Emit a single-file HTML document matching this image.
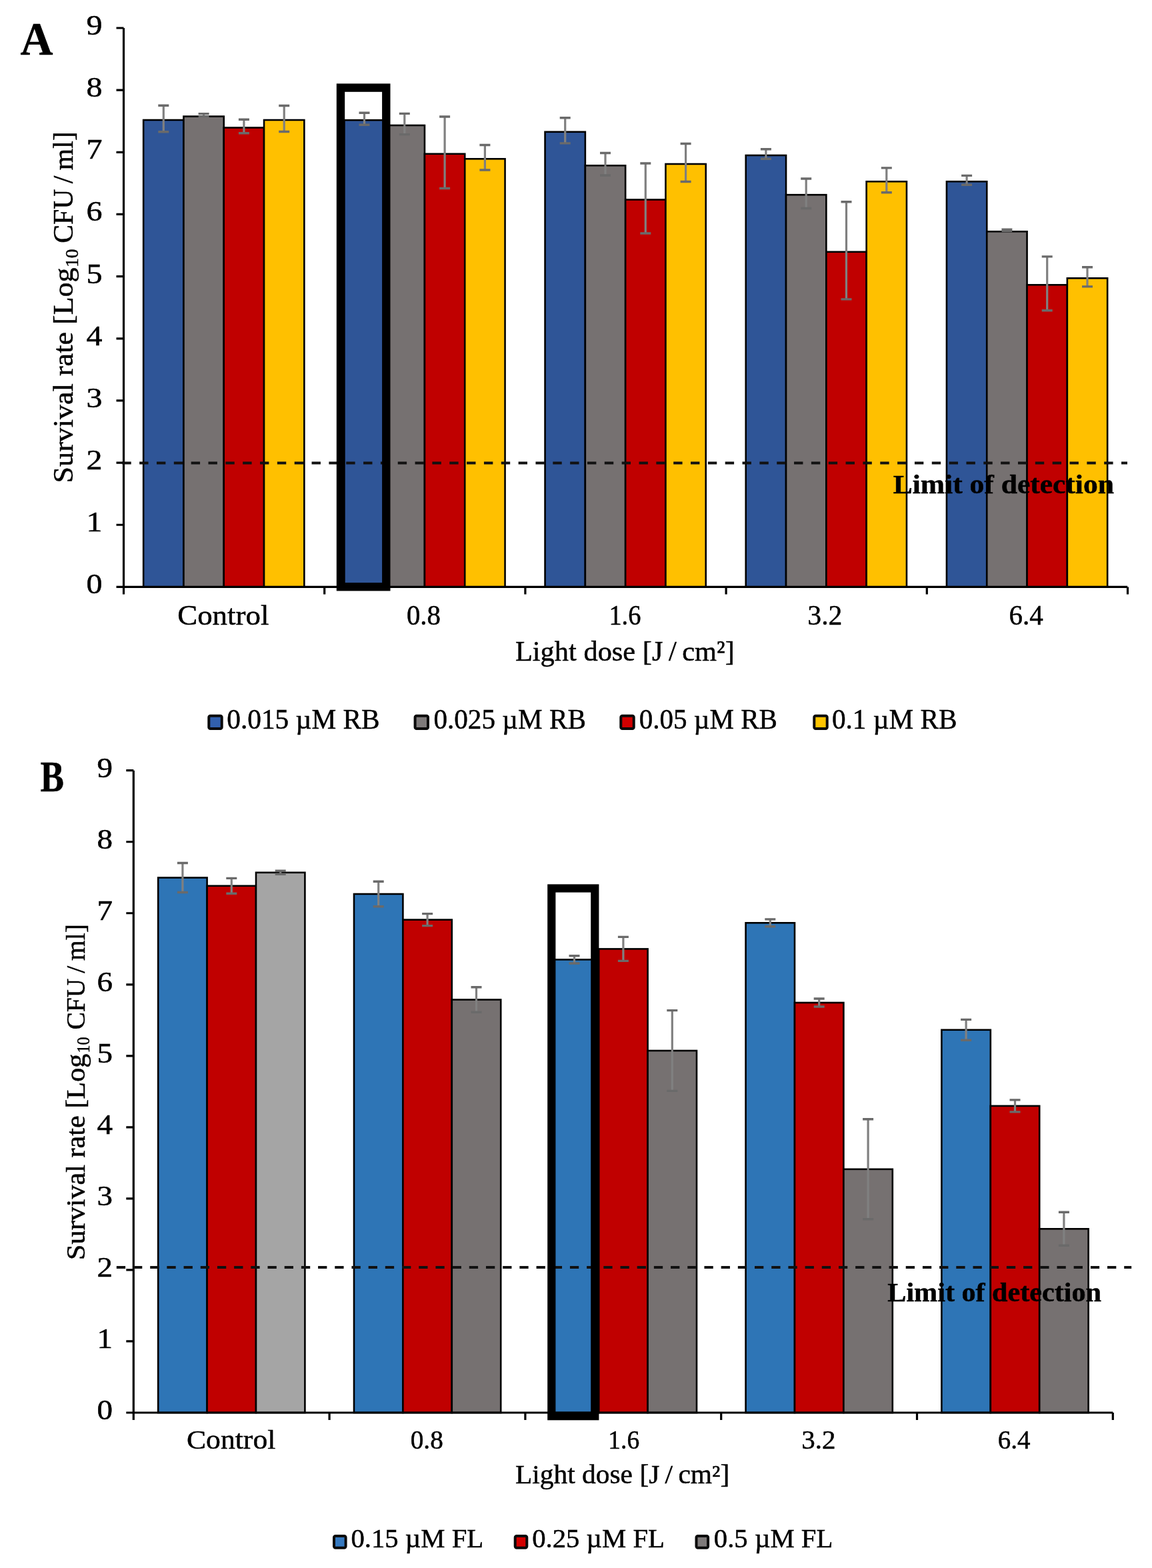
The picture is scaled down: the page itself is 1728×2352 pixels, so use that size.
<!DOCTYPE html>
<html><head><meta charset="utf-8"><title>Survival rate chart</title>
<style>
html,body{margin:0;padding:0;background:#fff;}
svg{display:block;}
</style></head>
<body>
<svg width="1728" height="2352" viewBox="0 0 1728 2352">
<rect width="1728" height="2352" fill="#fff"/>
<rect x="215.15" y="180" width="60.3" height="700.4" fill="#2F5597" stroke="#000" stroke-width="2.6"/>
<rect x="275.45" y="174.6" width="60.3" height="705.8" fill="#767171" stroke="#000" stroke-width="2.6"/>
<rect x="335.75" y="191.5" width="60.3" height="688.9" fill="#C00000" stroke="#000" stroke-width="2.6"/>
<rect x="396.05" y="180" width="60.3" height="700.4" fill="#FFC000" stroke="#000" stroke-width="2.6"/>
<rect x="516.35" y="180.2" width="60.3" height="700.2" fill="#2F5597" stroke="#000" stroke-width="2.6"/>
<rect x="576.65" y="188" width="60.3" height="692.4" fill="#767171" stroke="#000" stroke-width="2.6"/>
<rect x="636.95" y="230.8" width="60.3" height="649.6" fill="#C00000" stroke="#000" stroke-width="2.6"/>
<rect x="697.25" y="238.3" width="60.3" height="642.1" fill="#FFC000" stroke="#000" stroke-width="2.6"/>
<rect x="817.55" y="197.8" width="60.3" height="682.6" fill="#2F5597" stroke="#000" stroke-width="2.6"/>
<rect x="877.85" y="248.3" width="60.3" height="632.1" fill="#767171" stroke="#000" stroke-width="2.6"/>
<rect x="938.15" y="299.5" width="60.3" height="580.9" fill="#C00000" stroke="#000" stroke-width="2.6"/>
<rect x="998.45" y="246" width="60.3" height="634.4" fill="#FFC000" stroke="#000" stroke-width="2.6"/>
<rect x="1118.75" y="233" width="60.3" height="647.4" fill="#2F5597" stroke="#000" stroke-width="2.6"/>
<rect x="1179.05" y="292.2" width="60.3" height="588.2" fill="#767171" stroke="#000" stroke-width="2.6"/>
<rect x="1239.35" y="377.8" width="60.3" height="502.6" fill="#C00000" stroke="#000" stroke-width="2.6"/>
<rect x="1299.65" y="272.3" width="60.3" height="608.1" fill="#FFC000" stroke="#000" stroke-width="2.6"/>
<rect x="1419.95" y="272.3" width="60.3" height="608.1" fill="#2F5597" stroke="#000" stroke-width="2.6"/>
<rect x="1480.25" y="347.3" width="60.3" height="533.1" fill="#767171" stroke="#000" stroke-width="2.6"/>
<rect x="1540.55" y="427.3" width="60.3" height="453.1" fill="#C00000" stroke="#000" stroke-width="2.6"/>
<rect x="1600.85" y="417.3" width="60.3" height="463.1" fill="#FFC000" stroke="#000" stroke-width="2.6"/>
<path d="M245.3 158.25V197.75" stroke="#808080" stroke-width="3.2" fill="none"/>
<path d="M237.3 158.25H253.3M237.3 197.75H253.3" stroke="#6A6A6A" stroke-width="3.4" fill="none"/>
<path d="M305.6 170.6V174.6" stroke="#808080" stroke-width="3.2" fill="none"/>
<path d="M297.6 170.6H313.6M297.6 174.6H313.6" stroke="#6A6A6A" stroke-width="3.4" fill="none"/>
<path d="M365.9 179.2V199.8" stroke="#808080" stroke-width="3.2" fill="none"/>
<path d="M357.9 179.2H373.9M357.9 199.8H373.9" stroke="#6A6A6A" stroke-width="3.4" fill="none"/>
<path d="M426.2 158.5V197.5" stroke="#808080" stroke-width="3.2" fill="none"/>
<path d="M418.2 158.5H434.2M418.2 197.5H434.2" stroke="#6A6A6A" stroke-width="3.4" fill="none"/>
<path d="M546.5 169.2V187.2" stroke="#808080" stroke-width="3.2" fill="none"/>
<path d="M538.5 169.2H554.5M538.5 187.2H554.5" stroke="#6A6A6A" stroke-width="3.4" fill="none"/>
<path d="M606.8 170.4V201.6" stroke="#808080" stroke-width="3.2" fill="none"/>
<path d="M598.8 170.4H614.8M598.8 201.6H614.8" stroke="#6A6A6A" stroke-width="3.4" fill="none"/>
<path d="M667.1 175.05V282.55" stroke="#808080" stroke-width="3.2" fill="none"/>
<path d="M659.1 175.05H675.1M659.1 282.55H675.1" stroke="#6A6A6A" stroke-width="3.4" fill="none"/>
<path d="M727.4 217.55V255.05" stroke="#808080" stroke-width="3.2" fill="none"/>
<path d="M719.4 217.55H735.4M719.4 255.05H735.4" stroke="#6A6A6A" stroke-width="3.4" fill="none"/>
<path d="M847.7 176.7V214.9" stroke="#808080" stroke-width="3.2" fill="none"/>
<path d="M839.7 176.7H855.7M839.7 214.9H855.7" stroke="#6A6A6A" stroke-width="3.4" fill="none"/>
<path d="M908 229.55V263.05" stroke="#808080" stroke-width="3.2" fill="none"/>
<path d="M900 229.55H916M900 263.05H916" stroke="#6A6A6A" stroke-width="3.4" fill="none"/>
<path d="M968.3 245V350" stroke="#808080" stroke-width="3.2" fill="none"/>
<path d="M960.3 245H976.3M960.3 350H976.3" stroke="#6A6A6A" stroke-width="3.4" fill="none"/>
<path d="M1028.6 215.5V272.5" stroke="#808080" stroke-width="3.2" fill="none"/>
<path d="M1020.6 215.5H1036.6M1020.6 272.5H1036.6" stroke="#6A6A6A" stroke-width="3.4" fill="none"/>
<path d="M1148.9 223.75V238.25" stroke="#808080" stroke-width="3.2" fill="none"/>
<path d="M1140.9 223.75H1156.9M1140.9 238.25H1156.9" stroke="#6A6A6A" stroke-width="3.4" fill="none"/>
<path d="M1209.2 267.95V312.45" stroke="#808080" stroke-width="3.2" fill="none"/>
<path d="M1201.2 267.95H1217.2M1201.2 312.45H1217.2" stroke="#6A6A6A" stroke-width="3.4" fill="none"/>
<path d="M1269.5 302.7V448.9" stroke="#808080" stroke-width="3.2" fill="none"/>
<path d="M1261.5 302.7H1277.5M1261.5 448.9H1277.5" stroke="#6A6A6A" stroke-width="3.4" fill="none"/>
<path d="M1329.8 251.9V288.7" stroke="#808080" stroke-width="3.2" fill="none"/>
<path d="M1321.8 251.9H1337.8M1321.8 288.7H1337.8" stroke="#6A6A6A" stroke-width="3.4" fill="none"/>
<path d="M1450.1 263.4V277.2" stroke="#808080" stroke-width="3.2" fill="none"/>
<path d="M1442.1 263.4H1458.1M1442.1 277.2H1458.1" stroke="#6A6A6A" stroke-width="3.4" fill="none"/>
<path d="M1510.4 344.1V346.5" stroke="#808080" stroke-width="3.2" fill="none"/>
<path d="M1502.4 344.1H1518.4M1502.4 346.5H1518.4" stroke="#6A6A6A" stroke-width="3.4" fill="none"/>
<path d="M1570.7 384.9V465.7" stroke="#808080" stroke-width="3.2" fill="none"/>
<path d="M1562.7 384.9H1578.7M1562.7 465.7H1578.7" stroke="#6A6A6A" stroke-width="3.4" fill="none"/>
<path d="M1631 400.7V429.9" stroke="#808080" stroke-width="3.2" fill="none"/>
<path d="M1623 400.7H1639M1623 429.9H1639" stroke="#6A6A6A" stroke-width="3.4" fill="none"/>
<path d="M185.5 42V880.4H1691.2" stroke="#000" stroke-width="3.2" fill="none"/>
<path d="M174.5 880.4H185.5M174.5 787.24H185.5M174.5 694.09H185.5M174.5 600.93H185.5M174.5 507.78H185.5M174.5 414.62H185.5M174.5 321.47H185.5M174.5 228.31H185.5M174.5 135.16H185.5M174.5 42H185.5M185.5 880.4V891.4M486.7 880.4V891.4M787.9 880.4V891.4M1089.1 880.4V891.4M1390.3 880.4V891.4M1691.5 880.4V891.4" stroke="#000" stroke-width="3.2" fill="none"/>
<rect x="237.2" y="1316.5" width="73.4" height="802.5" fill="#2E75B6" stroke="#000" stroke-width="2.6"/>
<rect x="310.6" y="1328.8" width="73.4" height="790.2" fill="#C00000" stroke="#000" stroke-width="2.6"/>
<rect x="384" y="1308.8" width="73.4" height="810.2" fill="#A5A5A5" stroke="#000" stroke-width="2.6"/>
<rect x="531" y="1341" width="73.4" height="778" fill="#2E75B6" stroke="#000" stroke-width="2.6"/>
<rect x="604.4" y="1379.6" width="73.4" height="739.4" fill="#C00000" stroke="#000" stroke-width="2.6"/>
<rect x="677.8" y="1499.5" width="73.4" height="619.5" fill="#767171" stroke="#000" stroke-width="2.6"/>
<rect x="824.8" y="1439.4" width="73.4" height="679.6" fill="#2E75B6" stroke="#000" stroke-width="2.6"/>
<rect x="898.2" y="1423.4" width="73.4" height="695.6" fill="#C00000" stroke="#000" stroke-width="2.6"/>
<rect x="971.6" y="1576" width="73.4" height="543" fill="#767171" stroke="#000" stroke-width="2.6"/>
<rect x="1118.6" y="1384.3" width="73.4" height="734.7" fill="#2E75B6" stroke="#000" stroke-width="2.6"/>
<rect x="1192" y="1504" width="73.4" height="615" fill="#C00000" stroke="#000" stroke-width="2.6"/>
<rect x="1265.4" y="1753.8" width="73.4" height="365.2" fill="#767171" stroke="#000" stroke-width="2.6"/>
<rect x="1412.4" y="1544.8" width="73.4" height="574.2" fill="#2E75B6" stroke="#000" stroke-width="2.6"/>
<rect x="1485.8" y="1658.9" width="73.4" height="460.1" fill="#C00000" stroke="#000" stroke-width="2.6"/>
<rect x="1559.2" y="1843.3" width="73.4" height="275.7" fill="#767171" stroke="#000" stroke-width="2.6"/>
<path d="M273.9 1294.5V1338.5" stroke="#808080" stroke-width="3.2" fill="none"/>
<path d="M265.9 1294.5H281.9M265.9 1338.5H281.9" stroke="#6A6A6A" stroke-width="3.4" fill="none"/>
<path d="M347.3 1317.4V1340.2" stroke="#808080" stroke-width="3.2" fill="none"/>
<path d="M339.3 1317.4H355.3M339.3 1340.2H355.3" stroke="#6A6A6A" stroke-width="3.4" fill="none"/>
<path d="M420.7 1306.3V1311.3" stroke="#808080" stroke-width="3.2" fill="none"/>
<path d="M412.7 1306.3H428.7M412.7 1311.3H428.7" stroke="#6A6A6A" stroke-width="3.4" fill="none"/>
<path d="M567.7 1322.25V1359.75" stroke="#808080" stroke-width="3.2" fill="none"/>
<path d="M559.7 1322.25H575.7M559.7 1359.75H575.7" stroke="#6A6A6A" stroke-width="3.4" fill="none"/>
<path d="M641.1 1370.6V1388.6" stroke="#808080" stroke-width="3.2" fill="none"/>
<path d="M633.1 1370.6H649.1M633.1 1388.6H649.1" stroke="#6A6A6A" stroke-width="3.4" fill="none"/>
<path d="M714.5 1480.75V1518.25" stroke="#808080" stroke-width="3.2" fill="none"/>
<path d="M706.5 1480.75H722.5M706.5 1518.25H722.5" stroke="#6A6A6A" stroke-width="3.4" fill="none"/>
<path d="M861.5 1433.8V1445" stroke="#808080" stroke-width="3.2" fill="none"/>
<path d="M853.5 1433.8H869.5M853.5 1445H869.5" stroke="#6A6A6A" stroke-width="3.4" fill="none"/>
<path d="M934.9 1405.4V1441.4" stroke="#808080" stroke-width="3.2" fill="none"/>
<path d="M926.9 1405.4H942.9M926.9 1441.4H942.9" stroke="#6A6A6A" stroke-width="3.4" fill="none"/>
<path d="M1008.3 1515.6V1636.4" stroke="#808080" stroke-width="3.2" fill="none"/>
<path d="M1000.3 1515.6H1016.3M1000.3 1636.4H1016.3" stroke="#6A6A6A" stroke-width="3.4" fill="none"/>
<path d="M1155.3 1378.9V1389.7" stroke="#808080" stroke-width="3.2" fill="none"/>
<path d="M1147.3 1378.9H1163.3M1147.3 1389.7H1163.3" stroke="#6A6A6A" stroke-width="3.4" fill="none"/>
<path d="M1228.7 1498V1510" stroke="#808080" stroke-width="3.2" fill="none"/>
<path d="M1220.7 1498H1236.7M1220.7 1510H1236.7" stroke="#6A6A6A" stroke-width="3.4" fill="none"/>
<path d="M1302.1 1678.8V1828.8" stroke="#808080" stroke-width="3.2" fill="none"/>
<path d="M1294.1 1678.8H1310.1M1294.1 1828.8H1310.1" stroke="#6A6A6A" stroke-width="3.4" fill="none"/>
<path d="M1449.1 1529.4V1560.2" stroke="#808080" stroke-width="3.2" fill="none"/>
<path d="M1441.1 1529.4H1457.1M1441.1 1560.2H1457.1" stroke="#6A6A6A" stroke-width="3.4" fill="none"/>
<path d="M1522.5 1649.9V1667.9" stroke="#808080" stroke-width="3.2" fill="none"/>
<path d="M1514.5 1649.9H1530.5M1514.5 1667.9H1530.5" stroke="#6A6A6A" stroke-width="3.4" fill="none"/>
<path d="M1595.9 1818.3V1868.3" stroke="#808080" stroke-width="3.2" fill="none"/>
<path d="M1587.9 1818.3H1603.9M1587.9 1868.3H1603.9" stroke="#6A6A6A" stroke-width="3.4" fill="none"/>
<path d="M200.3 1155.7V2119H1669.4" stroke="#000" stroke-width="3.2" fill="none"/>
<path d="M189.3 2119H200.3M189.3 2011.97H200.3M189.3 1904.93H200.3M189.3 1797.9H200.3M189.3 1690.87H200.3M189.3 1583.83H200.3M189.3 1476.8H200.3M189.3 1369.77H200.3M189.3 1262.73H200.3M189.3 1155.7H200.3M200.3 2119V2130M494.1 2119V2130M787.9 2119V2130M1081.7 2119V2130M1375.5 2119V2130M1669.3 2119V2130" stroke="#000" stroke-width="3.2" fill="none"/>
<path d="M183.3 694.5H1691" stroke="#111" stroke-width="4" stroke-dasharray="13.4 12.44" fill="none"/>
<path d="M174.8 1901H1697.2" stroke="#111" stroke-width="4" stroke-dasharray="13.3 11.89" fill="none"/>
<g font-family="'Liberation Serif', serif" fill="#000" stroke="#000" stroke-width="0.5">
<text x="30.5" y="82.3" font-size="70" font-weight="bold" textLength="49" lengthAdjust="spacingAndGlyphs">A</text>
<text x="60.5" y="1187.3" font-size="66" font-weight="bold" textLength="35.5" lengthAdjust="spacingAndGlyphs">B</text>
<text x="141.5" y="890.4" font-size="42" text-anchor="middle" textLength="24" lengthAdjust="spacingAndGlyphs">0</text>
<text x="141.5" y="797.24" font-size="42" text-anchor="middle" textLength="24" lengthAdjust="spacingAndGlyphs">1</text>
<text x="141.5" y="704.09" font-size="42" text-anchor="middle" textLength="24" lengthAdjust="spacingAndGlyphs">2</text>
<text x="141.5" y="610.93" font-size="42" text-anchor="middle" textLength="24" lengthAdjust="spacingAndGlyphs">3</text>
<text x="141.5" y="517.78" font-size="42" text-anchor="middle" textLength="24" lengthAdjust="spacingAndGlyphs">4</text>
<text x="141.5" y="424.62" font-size="42" text-anchor="middle" textLength="24" lengthAdjust="spacingAndGlyphs">5</text>
<text x="141.5" y="331.47" font-size="42" text-anchor="middle" textLength="24" lengthAdjust="spacingAndGlyphs">6</text>
<text x="141.5" y="238.31" font-size="42" text-anchor="middle" textLength="24" lengthAdjust="spacingAndGlyphs">7</text>
<text x="141.5" y="145.16" font-size="42" text-anchor="middle" textLength="24" lengthAdjust="spacingAndGlyphs">8</text>
<text x="141.5" y="52" font-size="42" text-anchor="middle" textLength="24" lengthAdjust="spacingAndGlyphs">9</text>
<text x="157.2" y="2129" font-size="42" text-anchor="middle" textLength="23.5" lengthAdjust="spacingAndGlyphs">0</text>
<text x="157.2" y="2021.97" font-size="42" text-anchor="middle" textLength="23.5" lengthAdjust="spacingAndGlyphs">1</text>
<text x="157.2" y="1914.93" font-size="42" text-anchor="middle" textLength="23.5" lengthAdjust="spacingAndGlyphs">2</text>
<text x="157.2" y="1807.9" font-size="42" text-anchor="middle" textLength="23.5" lengthAdjust="spacingAndGlyphs">3</text>
<text x="157.2" y="1700.87" font-size="42" text-anchor="middle" textLength="23.5" lengthAdjust="spacingAndGlyphs">4</text>
<text x="157.2" y="1593.83" font-size="42" text-anchor="middle" textLength="23.5" lengthAdjust="spacingAndGlyphs">5</text>
<text x="157.2" y="1486.8" font-size="42" text-anchor="middle" textLength="23.5" lengthAdjust="spacingAndGlyphs">6</text>
<text x="157.2" y="1379.77" font-size="42" text-anchor="middle" textLength="23.5" lengthAdjust="spacingAndGlyphs">7</text>
<text x="157.2" y="1272.73" font-size="42" text-anchor="middle" textLength="23.5" lengthAdjust="spacingAndGlyphs">8</text>
<text x="157.2" y="1165.7" font-size="42" text-anchor="middle" textLength="23.5" lengthAdjust="spacingAndGlyphs">9</text>
<text x="266.2" y="937.4" font-size="42" textLength="137.2" lengthAdjust="spacingAndGlyphs">Control</text>
<text x="609.95" y="937.4" font-size="42" textLength="50.95" lengthAdjust="spacingAndGlyphs">0.8</text>
<text x="913.4" y="937.4" font-size="42" textLength="48" lengthAdjust="spacingAndGlyphs">1.6</text>
<text x="1211.3" y="937.4" font-size="42" textLength="52.1" lengthAdjust="spacingAndGlyphs">3.2</text>
<text x="1513.5" y="937.4" font-size="42" textLength="51.2" lengthAdjust="spacingAndGlyphs">6.4</text>
<text x="279.95" y="2172.5" font-size="41" textLength="133.45" lengthAdjust="spacingAndGlyphs">Control</text>
<text x="615.7" y="2172.5" font-size="41" textLength="49.1" lengthAdjust="spacingAndGlyphs">0.8</text>
<text x="912.3" y="2172.5" font-size="41" textLength="46.9" lengthAdjust="spacingAndGlyphs">1.6</text>
<text x="1202.2" y="2172.5" font-size="41" textLength="51.2" lengthAdjust="spacingAndGlyphs">3.2</text>
<text x="1496.7" y="2172.5" font-size="41" textLength="48.7" lengthAdjust="spacingAndGlyphs">6.4</text>
<text x="772.9" y="991.1" font-size="42" textLength="329" lengthAdjust="spacingAndGlyphs">Light dose [J / cm²]</text>
<text x="772.9" y="2224.6" font-size="40" textLength="321.4" lengthAdjust="spacingAndGlyphs">Light dose [J / cm²]</text>
<g transform="translate(109.3 0) rotate(-90)">
<text x="-724.4" y="0" font-size="42" textLength="323" lengthAdjust="spacingAndGlyphs">Survival rate [Log</text>
<text x="-401.1" y="7.5" font-size="27.72" textLength="27.7" lengthAdjust="spacingAndGlyphs">10</text>
<text x="-364.8" y="0" font-size="42" textLength="167.5" lengthAdjust="spacingAndGlyphs">CFU / ml]</text>
</g>
<g transform="translate(126.5 0) rotate(-90)">
<text x="-1889.9" y="0" font-size="41" textLength="309.2" lengthAdjust="spacingAndGlyphs">Survival rate [Log</text>
<text x="-1579.6" y="7.5" font-size="27.06" textLength="24.1" lengthAdjust="spacingAndGlyphs">10</text>
<text x="-1544.5" y="0" font-size="41" textLength="158.4" lengthAdjust="spacingAndGlyphs">CFU / ml]</text>
</g>
<text x="1339.7" y="740" font-size="40" font-weight="bold" textLength="331.2" lengthAdjust="spacingAndGlyphs">Limit of detection</text>
<text x="1331.3" y="1952" font-size="40" font-weight="bold" textLength="320.6" lengthAdjust="spacingAndGlyphs">Limit of detection</text>
<text x="340.3" y="1093.3" font-size="43" textLength="229.3" lengthAdjust="spacingAndGlyphs">0.015 µM RB</text>
<text x="650.4" y="1093.3" font-size="43" textLength="228.5" lengthAdjust="spacingAndGlyphs">0.025 µM RB</text>
<text x="958.7" y="1093.3" font-size="43" textLength="207.3" lengthAdjust="spacingAndGlyphs">0.05 µM RB</text>
<text x="1247.9" y="1093.3" font-size="43" textLength="187.7" lengthAdjust="spacingAndGlyphs">0.1 µM RB</text>
<text x="526.4" y="2321.2" font-size="41" textLength="198.8" lengthAdjust="spacingAndGlyphs">0.15 µM FL</text>
<text x="798.2" y="2321.2" font-size="41" textLength="198.8" lengthAdjust="spacingAndGlyphs">0.25 µM FL</text>
<text x="1070.8" y="2321.2" font-size="41" textLength="178.6" lengthAdjust="spacingAndGlyphs">0.5 µM FL</text>
</g>
<rect x="313.3" y="1073.8" width="19.4" height="19.3" rx="2.2" fill="#3260AE" stroke="#0a0a0a" stroke-width="4"/>
<rect x="622.6" y="1073.8" width="19.4" height="19.3" rx="2.2" fill="#7E7A7A" stroke="#0a0a0a" stroke-width="4"/>
<rect x="931.3" y="1073.8" width="19.4" height="19.3" rx="2.2" fill="#D20000" stroke="#0a0a0a" stroke-width="4"/>
<rect x="1221.3" y="1073.8" width="19.4" height="19.3" rx="2.2" fill="#FFC400" stroke="#0a0a0a" stroke-width="4"/>
<rect x="501" y="2304" width="17.6" height="17.8" rx="2.2" fill="#3579C0" stroke="#0a0a0a" stroke-width="4"/>
<rect x="772.7" y="2304" width="17.6" height="17.8" rx="2.2" fill="#D20000" stroke="#0a0a0a" stroke-width="4"/>
<rect x="1044.5" y="2304" width="17.6" height="17.8" rx="2.2" fill="#7E7A7A" stroke="#0a0a0a" stroke-width="4"/>
<rect x="511" y="131.6" width="68.3" height="748.6" fill="none" stroke="#000" stroke-width="12.4"/>
<rect x="827.3" y="1332.5" width="65" height="791.7" fill="none" stroke="#000" stroke-width="12.2"/>
</svg>
</body></html>
